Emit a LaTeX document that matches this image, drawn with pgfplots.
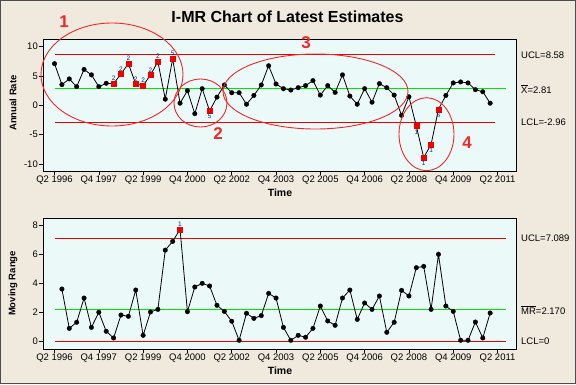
\documentclass[border=0pt]{standalone}
\usepackage{pgfplots}
\pgfplotsset{compat=1.18}
\usepackage{pgfplotstable}
\usepackage{fontspec}
\setmainfont{Liberation Sans}
\definecolor{bgout}{RGB}{240,234,222}
\definecolor{bgin}{RGB}{236,249,249}
\definecolor{clred}{RGB}{235,0,0}
\definecolor{clgreen}{RGB}{0,230,0}
\definecolor{ptred}{RGB}{240,0,0}
\definecolor{labblue}{RGB}{20,40,100}
\definecolor{annred}{RGB}{240,40,40}

\pgfplotstableread{
idx val
0 7.06
1 3.50
2 4.47
3 3.15
4 6.08
5 5.16
6 3.15
7 3.73
8 3.67
9 5.34
10 7.06
11 3.61
12 3.33
13 5.16
14 7.40
15 1.03
16 7.92
17 0.34
18 2.47
19 -1.44
20 2.81
21 -0.98
22 1.37
23 3.44
24 2.12
25 2.12
26 0.17
27 1.66
28 3.44
29 6.71
30 3.61
31 2.81
32 2.58
33 2.98
34 3.33
35 4.19
36 1.72
37 3.33
38 2.18
39 5.16
40 1.55
41 0.17
42 2.81
43 0.51
44 3.67
45 2.98
46 1.72
47 -1.72
48 1.43
49 -3.56
50 -8.90
51 -6.66
52 -0.69
53 1.66
54 3.79
55 3.96
56 3.79
57 2.64
58 2.29
59 0.34
}\Idata

\pgfplotstableread{
idx mr
1 3.60
2 0.89
3 1.31
4 2.98
5 0.96
6 2.00
7 0.69
8 0.23
9 1.81
10 1.72
11 3.53
12 0.41
13 2.02
14 2.20
15 6.28
16 6.88
17 7.71
18 2.04
19 3.74
20 3.99
21 3.81
22 2.48
23 2.06
24 1.38
25 0.07
26 1.93
27 1.58
28 1.77
29 3.30
30 2.98
31 0.96
32 0.07
33 0.41
34 0.28
35 0.89
36 2.43
37 1.40
38 1.10
39 2.98
40 3.53
41 1.51
42 2.64
43 2.20
44 3.12
45 0.62
46 1.31
47 3.51
48 3.12
49 5.07
50 5.16
51 2.20
52 5.99
53 2.43
54 2.06
55 0.07
56 0.07
57 1.33
58 0.23
59 1.95
}\MRdata

\pgfplotsset{
  imr/.style={
    scale only axis, width=473pt,
    axis background/.style={fill=bgin},
    xmin=-1.56, xmax=62.5,
    xtick={0,6,12,18,24,30,36,42,48,54,60},
    xticklabels={Q2 1996,Q4 1997,Q2 1999,Q4 2000,Q2 2002,Q4 2003,Q2 2005,Q4 2006,Q2 2008,Q4 2009,Q2 2011},
    tick align=outside, major tick length=4pt,
    xtick pos=lower, ytick pos=left,
    tick style={black, line width=0.6pt},
    ticklabel style={font=\fontsize{9.5}{11}\selectfont, inner sep=1pt},
    axis line style={black, line width=0.8pt},
    clip=false,
    datal/.style={black, line width=0.8pt, mark=*, mark size=2.3pt, mark options={line width=0.3pt, fill=black}},
    redpt/.style={only marks, mark=square*, mark size=2.5pt, ptred, mark options={draw=ptred, fill=ptred, line width=0.3pt},
      nodes near coords, point meta=explicit symbolic},
    labup/.style={nodes near coords style={font=\fontsize{6.5}{7}\selectfont, text=labblue, anchor=south, inner sep=0pt, yshift=2.6pt}},
    labdn/.style={nodes near coords style={font=\fontsize{6.5}{7}\selectfont, text=labblue, anchor=north, inner sep=0pt, yshift=-3.3pt}},
  }
}

\begin{document}
\begin{tikzpicture}
\fill[bgout] (0pt,0pt) rectangle (576pt,384pt);
\draw[black!70, line width=1pt] (0.5pt,0.5pt) rectangle (575.5pt,383.5pt);

% ---------- I chart ----------
\begin{axis}[imr, at={(43pt,213pt)}, anchor=south west, height=132pt,
  ymin=-11.19, ymax=11.26,
  ytick={-10,-5,0,5,10}, yticklabels={-10,-5,0,5,10}]
\addplot[clred, line width=1.1pt] coordinates {(0,8.58) (59.6,8.58)};
\addplot[clred, line width=1.1pt] coordinates {(0,-2.96) (59.6,-2.96)};
\addplot[clgreen, line width=1.1pt] coordinates {(0,2.81) (61.1,2.81)};
\addplot[datal] table[x=idx,y=val]{\Idata};
\addplot[redpt, labup] coordinates {(8,3.67) [2] (9,5.34) [2] (10,7.06) [2] (11,3.61) [2] (12,3.33) [2] (13,5.16) [2] (14,7.40) [2] (16,7.92) [5]};
\addplot[redpt, labdn] coordinates {(21,-0.98) [5] (49,-3.56) [1] (50,-8.90) [1] (51,-6.66) [1] (52,-0.69) [6]};
\end{axis}

% ---------- MR chart ----------
\begin{axis}[imr, at={(43pt,35pt)}, anchor=south west, height=130.7pt,
  ymin=-0.53, ymax=8.47,
  ytick={0,2,4,6,8}, yticklabels={0,2,4,6,8}]
\addplot[clred, line width=1.1pt] coordinates {(0,7.089) (61.1,7.089)};
\addplot[clred, line width=1.1pt] coordinates {(0,0) (61.1,0)};
\addplot[clgreen, line width=1.1pt] coordinates {(0,2.17) (61.1,2.17)};
\addplot[datal] table[x=idx,y=mr]{\MRdata};
\addplot[redpt, labup] coordinates {(17,7.71) [1]};
\end{axis}

% ---------- texts ----------
\node[font=\bfseries\fontsize{16}{18}\selectfont] at (287.5pt,367pt) {I-MR Chart of Latest Estimates};
\node[font=\bfseries\fontsize{9.5}{11}\selectfont, rotate=90] at (13pt,281pt) {Annual Rate};
\node[font=\bfseries\fontsize{9.5}{11}\selectfont, rotate=90] at (13pt,100.5pt) {Moving Range};
\node[font=\bfseries\fontsize{10.5}{12}\selectfont] at (280pt,191.5pt) {Time};
\node[font=\bfseries\fontsize{10.5}{12}\selectfont] at (280pt,13.5pt) {Time};

\begin{scope}[every node/.style={font=\fontsize{9.5}{11}\selectfont, anchor=west, inner sep=0pt}]
\node at (521pt,329pt) {UCL=8.58};
\node at (521pt,295pt) {\(\overline{\mbox{X}}\)=2.81};
\node at (521pt,261.5pt) {LCL=-2.96};
\node at (521pt,145.7pt) {UCL=7.089};
\node at (521pt,74pt) {\(\overline{\mbox{MR}}\)=2.170};
\node at (521pt,42.7pt) {LCL=0};
\end{scope}

% ---------- annotations ----------
\draw[annred, line width=0.9pt] (112pt,309.5pt) ellipse [x radius=71pt, y radius=51.5pt];
\draw[annred, line width=0.9pt] (200.5pt,281pt) ellipse [x radius=26.5pt, y radius=24pt];
\draw[annred, line width=0.9pt] (315.5pt,292.5pt) ellipse [x radius=92.5pt, y radius=37.5pt];
\draw[annred, line width=0.9pt] (426.5pt,249.8pt) ellipse [x radius=27.5pt, y radius=36.5pt];
\begin{scope}[every node/.style={font=\bfseries\fontsize{17}{19}\selectfont, text=annred}]
\node at (64pt,362pt) {1};
\node at (218pt,250pt) {2};
\node at (306pt,341pt) {3};
\node at (467pt,241pt) {4};
\end{scope}

\pgfresetboundingbox
\useasboundingbox (0pt,0pt) rectangle (576pt,384pt);
\end{tikzpicture}
\end{document}
